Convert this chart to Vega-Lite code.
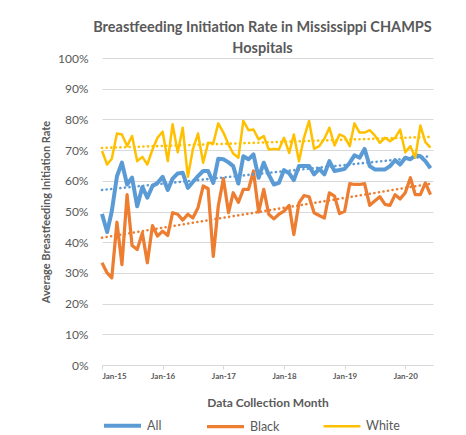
{
  "$schema": "https://vega.github.io/schema/vega-lite/v6.json",
  "width": 331,
  "height": 307,
  "padding": {"left": 40, "top": 19, "right": 5, "bottom": 0},
  "background": "white",
  "title": {
    "text": ["Breastfeeding Initiation Rate in Mississippi CHAMPS", "Hospitals"],
    "font": "Lato",
    "fontSize": 14.5,
    "fontWeight": "bold",
    "color": "#595959",
    "lineHeight": 21,
    "anchor": "middle",
    "dx": -5,
    "offset": -4
  },
  "config": {
    "view": {"stroke": null},
    "axis": {"labelFont": "Lato", "titleFont": "Lato", "labelColor": "#595959", "titleColor": "#595959"},
    "legend": {"labelFont": "Lato"}
  },
  "data": {
    "format": {"parse": {"date": "date"}},
    "values": [
      {"date": "2015/01/01", "All": 0.492, "Black": 0.333, "White": 0.697},
      {"date": "2015/02/01", "All": 0.433, "Black": 0.300, "White": 0.653},
      {"date": "2015/03/01", "All": 0.501, "Black": 0.284, "White": 0.672},
      {"date": "2015/04/01", "All": 0.615, "Black": 0.465, "White": 0.754},
      {"date": "2015/05/01", "All": 0.659, "Black": 0.327, "White": 0.751},
      {"date": "2015/06/01", "All": 0.588, "Black": 0.555, "White": 0.713},
      {"date": "2015/07/01", "All": 0.610, "Black": 0.389, "White": 0.746},
      {"date": "2015/08/01", "All": 0.517, "Black": 0.376, "White": 0.664},
      {"date": "2015/09/01", "All": 0.580, "Black": 0.430, "White": 0.678},
      {"date": "2015/10/01", "All": 0.545, "Black": 0.333, "White": 0.653},
      {"date": "2015/11/01", "All": 0.583, "Black": 0.454, "White": 0.702},
      {"date": "2015/12/01", "All": 0.593, "Black": 0.420, "White": 0.740},
      {"date": "2016/01/01", "All": 0.613, "Black": 0.436, "White": 0.760},
      {"date": "2016/02/01", "All": 0.570, "Black": 0.422, "White": 0.664},
      {"date": "2016/03/01", "All": 0.607, "Black": 0.496, "White": 0.784},
      {"date": "2016/04/01", "All": 0.624, "Black": 0.491, "White": 0.693},
      {"date": "2016/05/01", "All": 0.626, "Black": 0.472, "White": 0.773},
      {"date": "2016/06/01", "All": 0.577, "Black": 0.491, "White": 0.613},
      {"date": "2016/07/01", "All": 0.596, "Black": 0.479, "White": 0.702},
      {"date": "2016/08/01", "All": 0.615, "Black": 0.512, "White": 0.754},
      {"date": "2016/09/01", "All": 0.632, "Black": 0.583, "White": 0.659},
      {"date": "2016/10/01", "All": 0.632, "Black": 0.574, "White": 0.724},
      {"date": "2016/11/01", "All": 0.593, "Black": 0.354, "White": 0.722},
      {"date": "2016/12/01", "All": 0.672, "Black": 0.517, "White": 0.787},
      {"date": "2017/01/01", "All": 0.670, "Black": 0.607, "White": 0.757},
      {"date": "2017/02/01", "All": 0.660, "Black": 0.496, "White": 0.718},
      {"date": "2017/03/01", "All": 0.648, "Black": 0.561, "White": 0.689},
      {"date": "2017/04/01", "All": 0.591, "Black": 0.530, "White": 0.675},
      {"date": "2017/05/01", "All": 0.680, "Black": 0.572, "White": 0.795},
      {"date": "2017/06/01", "All": 0.670, "Black": 0.572, "White": 0.765},
      {"date": "2017/07/01", "All": 0.686, "Black": 0.632, "White": 0.767},
      {"date": "2017/08/01", "All": 0.610, "Black": 0.498, "White": 0.735},
      {"date": "2017/09/01", "All": 0.659, "Black": 0.572, "White": 0.746},
      {"date": "2017/10/01", "All": 0.620, "Black": 0.491, "White": 0.702},
      {"date": "2017/11/01", "All": 0.588, "Black": 0.476, "White": 0.704},
      {"date": "2017/12/01", "All": 0.593, "Black": 0.491, "White": 0.702},
      {"date": "2018/01/01", "All": 0.635, "Black": 0.501, "White": 0.740},
      {"date": "2018/02/01", "All": 0.624, "Black": 0.520, "White": 0.691},
      {"date": "2018/03/01", "All": 0.602, "Black": 0.425, "White": 0.751},
      {"date": "2018/04/01", "All": 0.648, "Black": 0.528, "White": 0.664},
      {"date": "2018/05/01", "All": 0.648, "Black": 0.552, "White": 0.740},
      {"date": "2018/06/01", "All": 0.648, "Black": 0.548, "White": 0.795},
      {"date": "2018/07/01", "All": 0.621, "Black": 0.496, "White": 0.704},
      {"date": "2018/08/01", "All": 0.639, "Black": 0.487, "White": 0.713},
      {"date": "2018/09/01", "All": 0.621, "Black": 0.479, "White": 0.737},
      {"date": "2018/10/01", "All": 0.664, "Black": 0.561, "White": 0.773},
      {"date": "2018/11/01", "All": 0.632, "Black": 0.550, "White": 0.715},
      {"date": "2018/12/01", "All": 0.635, "Black": 0.493, "White": 0.751},
      {"date": "2019/01/01", "All": 0.639, "Black": 0.501, "White": 0.743},
      {"date": "2019/02/01", "All": 0.659, "Black": 0.591, "White": 0.713},
      {"date": "2019/03/01", "All": 0.683, "Black": 0.588, "White": 0.787},
      {"date": "2019/04/01", "All": 0.675, "Black": 0.588, "White": 0.757},
      {"date": "2019/05/01", "All": 0.704, "Black": 0.591, "White": 0.757},
      {"date": "2019/06/01", "All": 0.648, "Black": 0.520, "White": 0.765},
      {"date": "2019/07/01", "All": 0.637, "Black": 0.534, "White": 0.748},
      {"date": "2019/08/01", "All": 0.637, "Black": 0.548, "White": 0.724},
      {"date": "2019/09/01", "All": 0.637, "Black": 0.523, "White": 0.740},
      {"date": "2019/10/01", "All": 0.648, "Black": 0.520, "White": 0.729},
      {"date": "2019/11/01", "All": 0.667, "Black": 0.555, "White": 0.740},
      {"date": "2019/12/01", "All": 0.653, "Black": 0.541, "White": 0.767},
      {"date": "2020/01/01", "All": 0.675, "Black": 0.561, "White": 0.693},
      {"date": "2020/02/01", "All": 0.670, "Black": 0.610, "White": 0.713},
      {"date": "2020/03/01", "All": 0.683, "Black": 0.555, "White": 0.675},
      {"date": "2020/04/01", "All": 0.680, "Black": 0.555, "White": 0.780},
      {"date": "2020/05/01", "All": 0.664, "Black": 0.593, "White": 0.726},
      {"date": "2020/06/01", "All": 0.641, "Black": 0.555, "White": 0.708}
    ]
  },
  "transform": [{"fold": ["All", "Black", "White"], "as": ["series", "rate"]}],
  "encoding": {
    "x": {
      "field": "date",
      "type": "temporal",
      "scale": {"domain": [{"year": 2015, "month": 1, "date": 1}, {"year": 2020, "month": 6, "date": 16}]},
      "axis": {
        "title": "Data Collection Month",
        "titleFontSize": 12,
        "titleFontWeight": "bold",
        "titlePadding": 17,
        "format": "%b-%y",
        "tickCount": {"interval": "year", "step": 1},
        "labelFontSize": 8,
        "labelFontWeight": "bold",
        "labelPadding": 3,
        "grid": false,
        "domainColor": "#d9d9d9",
        "tickColor": "#d9d9d9",
        "tickSize": 4
      }
    },
    "y": {
      "field": "rate",
      "type": "quantitative",
      "scale": {"domain": [0, 1]},
      "axis": {
        "title": "Average Breastfeeding Initiation Rate",
        "titleFontSize": 11,
        "titleFontWeight": "bold",
        "titlePadding": 6,
        "values": [0, 0.1, 0.2, 0.3, 0.4, 0.5, 0.6, 0.7, 0.8, 0.9, 1],
        "format": ".0%",
        "labelFontSize": 12,
        "labelPadding": 14,
        "ticks": false,
        "tickSize": 0,
        "domain": false,
        "gridColor": "#d9d9d9"
      }
    },
    "color": {
      "field": "series",
      "type": "nominal",
      "scale": {"domain": ["All", "Black", "White"], "range": ["#5b9bd5", "#ed7d31", "#ffc000"]},
      "legend": {
        "title": null,
        "orient": "bottom",
        "direction": "horizontal",
        "symbolType": "stroke",
        "symbolSize": 1369,
        "symbolStrokeWidth": 4,
        "labelFontSize": 12.5,
        "labelColor": "#595959",
        "labelOffset": 4,
        "columnPadding": 38,
        "offset": -3
      }
    }
  },
  "layer": [
    {
      "mark": {"type": "line", "strokeJoin": "round"},
      "encoding": {
        "strokeWidth": {
          "field": "series",
          "type": "nominal",
          "scale": {"domain": ["All", "Black", "White"], "range": [4, 2.5, 2.5]},
          "legend": null
        }
      }
    },
    {
      "transform": [{"regression": "rate", "on": "date", "groupby": ["series"]}],
      "mark": {"type": "line", "strokeDash": [0.1, 4.5], "strokeCap": "round", "strokeWidth": 2.6}
    }
  ]
}
